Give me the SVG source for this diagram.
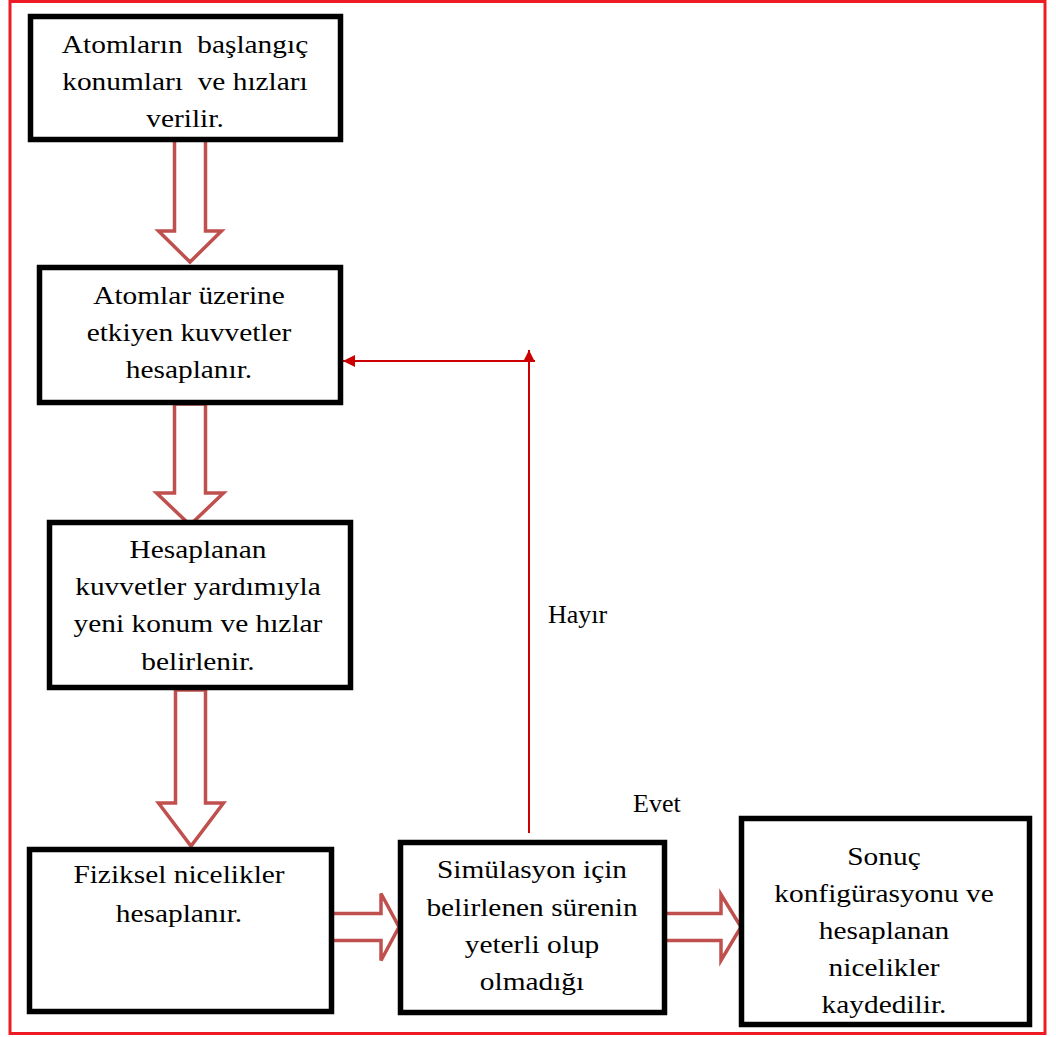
<svg xmlns="http://www.w3.org/2000/svg" width="1056" height="1037" viewBox="0 0 1056 1037">
<style>
.box{fill:#fff;stroke:#000;stroke-width:5.5}
.blk{fill:#fff;stroke:#c0504d;stroke-width:3.5;stroke-linejoin:miter}
.fb{fill:none;stroke:#cc0000;stroke-width:2}
text{font-family:"Liberation Serif","Times New Roman",serif;font-size:26px;fill:#000}
.c{text-anchor:middle}
</style>
<defs>
<marker id="ah" viewBox="0 0 10 10" refX="10" refY="5" markerUnits="userSpaceOnUse" markerWidth="14" markerHeight="12" orient="auto">
<path d="M0,0 L10,5 L0,10 Z" fill="#cc0000"/>
</marker>
</defs>
<rect x="10" y="1.5" width="1035" height="1032" fill="none" stroke="#ed1c24" stroke-width="3"/>
<g id="connectors">
<path class="blk" d="M174.5,140 V231 H158.5 L190,262 L221.5,231 H205.5 V140 Z"/>
<path class="blk" d="M174.5,404 V493 H156.5 L190,525 L223.5,493 H205.5 V404 Z"/>
<path class="blk" d="M175.5,690 V803 H158.5 L191,846 L223.5,803 H205.5 V690 Z"/>
<path class="blk" d="M331,913.5 H381 V893.5 L399,927 L381,960.5 V940.5 H331 Z"/>
<path class="blk" d="M663,913.5 H721 V894.5 L741,927 L721,960.5 V940.5 H663 Z"/>
<line class="fb" x1="529" y1="833" x2="529" y2="350" marker-end="url(#ah)"/>
<line class="fb" x1="535" y1="361" x2="343" y2="361" marker-end="url(#ah)"/>
<text x="548" y="623">Hayır</text>
<text x="633" y="812">Evet</text>
</g>
<g id="n1">
<rect class="box" x="30.5" y="16.5" width="310" height="123"/>
<g transform="translate(185,0) scale(1.13,1)">
<text class="c" x="0" y="53" xml:space="preserve">Atomların  başlangıç</text>
<text class="c" x="0" y="90" xml:space="preserve">konumları  ve hızları</text>
<text class="c" x="0" y="127">verilir.</text>
</g>
</g>
<g id="n2">
<rect class="box" x="39.5" y="267.5" width="301" height="135"/>
<g transform="translate(189,0) scale(1.13,1)">
<text class="c" x="0" y="304">Atomlar üzerine</text>
<text class="c" x="0" y="341">etkiyen kuvvetler</text>
<text class="c" x="0" y="378">hesaplanır.</text>
</g>
</g>
<g id="n3">
<rect class="box" x="49.5" y="522.5" width="301" height="165"/>
<g transform="translate(198,0) scale(1.13,1)">
<text class="c" x="0" y="558">Hesaplanan</text>
<text class="c" x="0" y="595">kuvvetler yardımıyla</text>
<text class="c" x="0" y="632">yeni konum ve hızlar</text>
<text class="c" x="0" y="670">belirlenir.</text>
</g>
</g>
<g id="n4">
<rect class="box" x="29.5" y="849.5" width="302" height="162"/>
<g transform="translate(179,0) scale(1.13,1)">
<text class="c" x="0" y="883">Fiziksel nicelikler</text>
<text class="c" x="0" y="922">hesaplanır.</text>
</g>
</g>
<g id="n5">
<rect class="box" x="400.5" y="842.5" width="264" height="170"/>
<g transform="translate(532,0) scale(1.13,1)">
<text class="c" x="0" y="878">Simülasyon için</text>
<text class="c" x="0" y="916">belirlenen sürenin</text>
<text class="c" x="0" y="953">yeterli olup</text>
<text class="c" x="0" y="990">olmadığı</text>
</g>
</g>
<g id="n6">
<rect class="box" x="741.5" y="818.5" width="288" height="206"/>
<g transform="translate(884,0) scale(1.13,1)">
<text class="c" x="0" y="865">Sonuç</text>
<text class="c" x="0" y="902">konfigürasyonu ve</text>
<text class="c" x="0" y="939">hesaplanan</text>
<text class="c" x="0" y="976">nicelikler</text>
<text class="c" x="0" y="1013">kaydedilir.</text>
</g>
</g>
</svg>
